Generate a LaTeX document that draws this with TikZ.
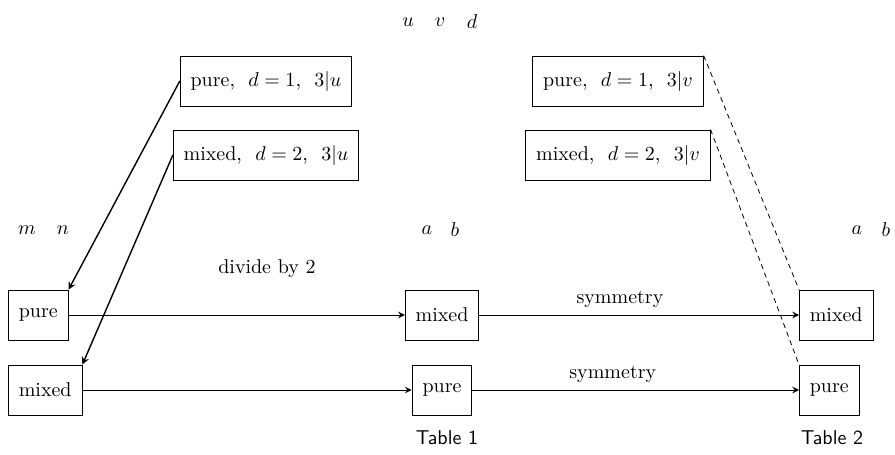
\documentclass[tikz,border=0pt]{standalone}
\usetikzlibrary{arrows,positioning}
\tikzstyle{arrow} = [->,>=stealth, line width=0.5pt]
\tikzstyle{box} = [draw, minimum height=25pt, inner xsep=5.2pt]
\tikzstyle{guide} = [dash pattern=on 2.5pt off 2pt]

\begin{document}
\begin{tikzpicture}[x=0.5pt,y=-0.5pt]
\useasboundingbox (0,0) rectangle (895,455);

% Nodes
\node (u) at (408,22) {$u$};
\node (v) at (440,22) {$v$};
\node (d) at (472,22) {$d$};

\node (upure) [box] at (266,81) {pure,\ \ $d=1$,\ \ $3|u$};
\node (umixed) [box] at (266,155) {mixed,\ \ $d=2$,\ \ $3|u$};
\node (vpure) [box] at (618,81) {pure,\ \ $d=1$,\ \ $3|v$};
\node (vmixed) [box] at (618,155) {mixed,\ \ $d=2$,\ \ $3|v$};

\node (m) at (27,230) {$m$};
\node (n) at (63,230) {$n$};
\node (a1) at (427,230) {$a$};
\node (b1) at (455,230) {$b$};
\node (a2) at (857,230) {$a$};
\node (b2) at (886,230) {$b$};

\node (pure0) [box, anchor=west] at (8,315) {pure};
\node (mixed0) [box, anchor=west] at (8,390) {mixed};
\node (mixed1) [box] at (442,315) {mixed};
\node (pure1) [box] at (442,390) {pure};
\node (mixed2) [box, anchor=west] at (799,315) {mixed};
\node (pure2) [box, anchor=west] at (799,390) {pure};

\node (table1) [font=\sffamily] at (447,438) {Table 1};
\node (table2) [font=\sffamily] at (832,438) {Table 2};

% Arrows
\draw [arrow, line width=0.7pt] (upure.west) -- (pure0.north east);
\draw [arrow, line width=0.7pt] (umixed.west) -- (mixed0.north east);
\draw [arrow] (pure0) -- node[above=15pt, pos=.59] {divide by 2} (mixed1);
\draw [arrow] (mixed0) -- (pure1);
\draw [arrow] (mixed1) -- node[above, pos=.44] {symmetry} (mixed2);
\draw [arrow] (pure1) -- node[above, pos=.43] {symmetry} (pure2);
\draw [guide] (vpure.north east) -- (mixed2.north west);
\draw [guide] (vmixed.north east) -- (pure2.north west);

\end{tikzpicture}
\end{document}
